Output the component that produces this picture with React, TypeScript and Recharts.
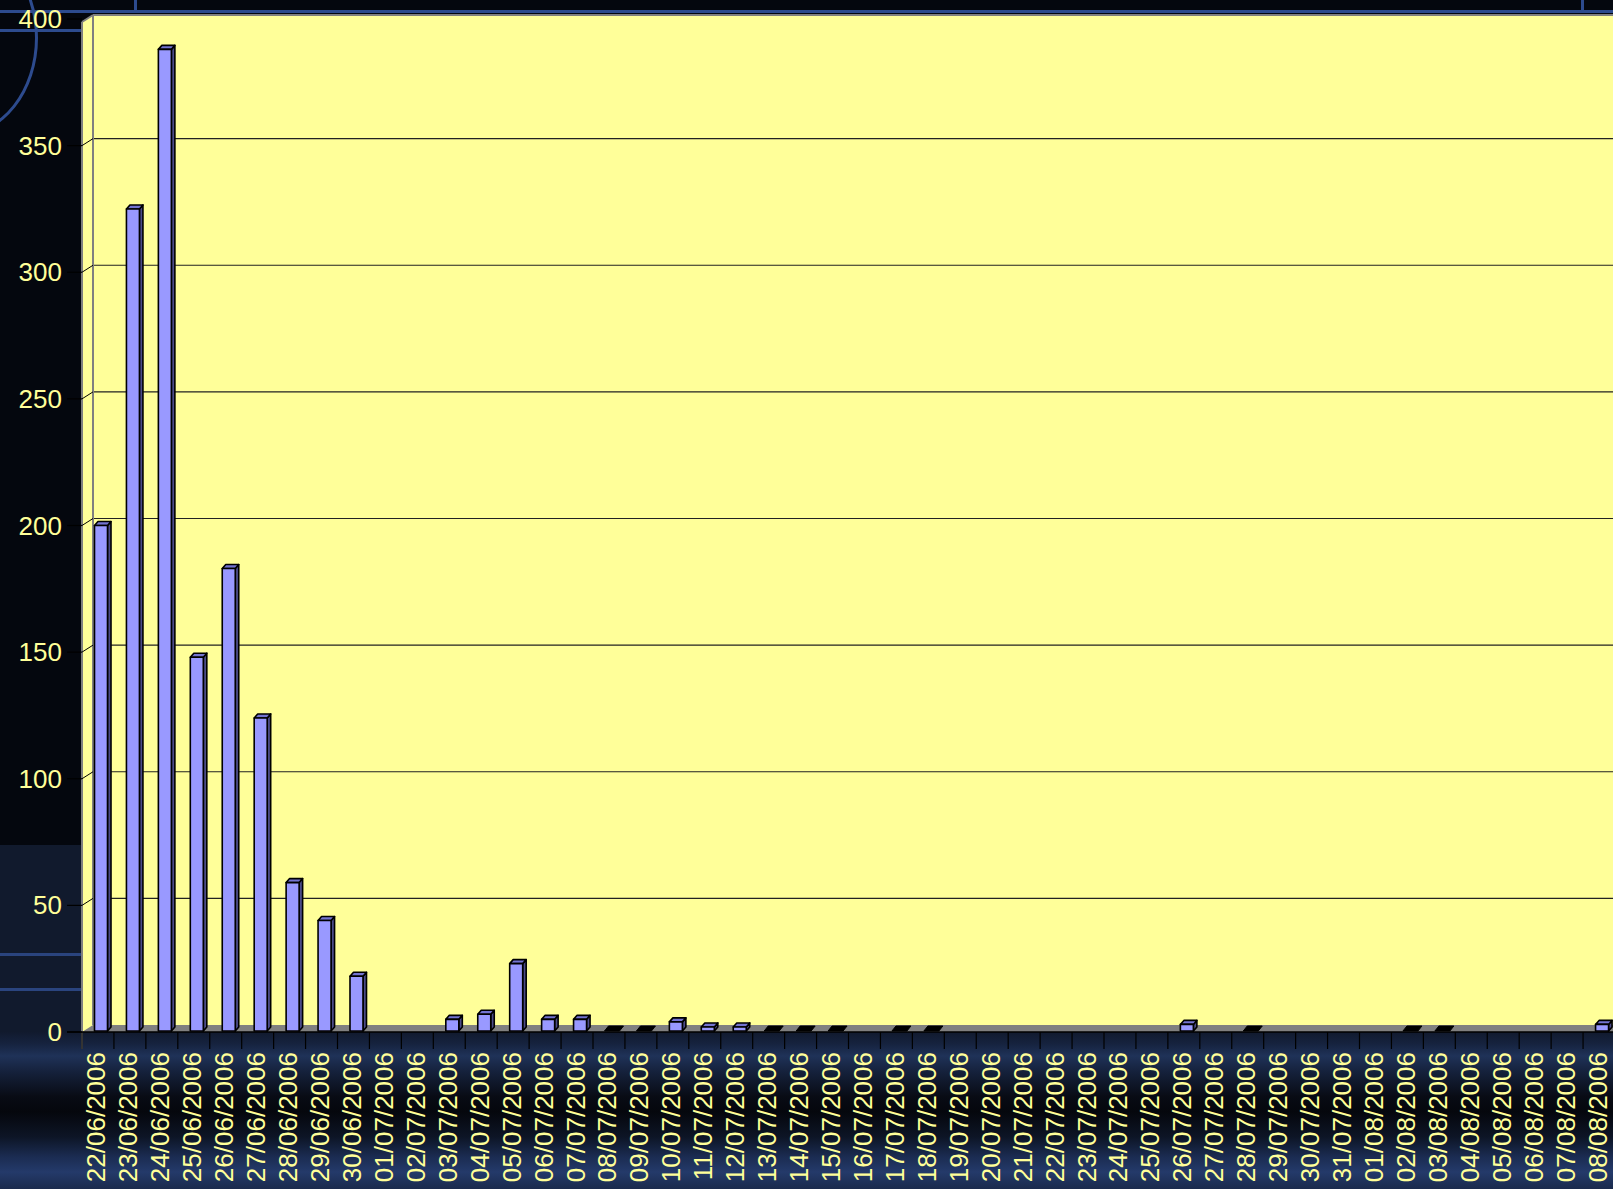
import React from "react";
import { BarChart, Bar, XAxis, YAxis, CartesianGrid, Customized } from "recharts";

const dates = [
  "22/06/2006", "23/06/2006", "24/06/2006", "25/06/2006", "26/06/2006", "27/06/2006",
  "28/06/2006", "29/06/2006", "30/06/2006", "01/07/2006", "02/07/2006", "03/07/2006",
  "04/07/2006", "05/07/2006", "06/07/2006", "07/07/2006", "08/07/2006", "09/07/2006",
  "10/07/2006", "11/07/2006", "12/07/2006", "13/07/2006", "14/07/2006", "15/07/2006",
  "16/07/2006", "17/07/2006", "18/07/2006", "19/07/2006", "20/07/2006", "21/07/2006",
  "22/07/2006", "23/07/2006", "24/07/2006", "25/07/2006", "26/07/2006", "27/07/2006",
  "28/07/2006", "29/07/2006", "30/07/2006", "31/07/2006", "01/08/2006", "02/08/2006",
  "03/08/2006", "04/08/2006", "05/08/2006", "06/08/2006", "07/08/2006", "08/08/2006",
];

// null = no bar drawn, 0 = flat bar on the floor
const counts: (number | null)[] = [
  200, 325, 388, 148, 183, 124, 59, 44, 22, null, null, 5,
  7, 27, 5, 5, 0, 0, 4, 2, 2, 0, 0, 0,
  null, 0, 0, null, null, null, null, null, null, null, 3, null,
  0, null, null, null, null, 0, 0, null, null, null, null, 3,
];

const yTicks = [0, 50, 100, 150, 200, 250, 300, 350, 400];

const data = dates.map((date, i) => ({ date, count: counts[i] }));

const W = 1625;
const H = 1189;
const AXIS_W = 82;
const X_AXIS_H = 157;
const RIGHT = 10;
const TOP = 19;
const BOTTOM = H - X_AXIS_H; // 1032
const BAND = (W - AXIS_W - RIGHT) / dates.length;
const DX = 11; // depth of the back wall
const DY = 7;
const LABEL = "#ffff99";
const FONT = "'Liberation Sans', Arial, sans-serif";

const YTick = (props: any) => {
  const { y, payload } = props;
  const v = payload.value;
  return (
    <g>
      <line x1={67} x2={AXIS_W} y1={y} y2={y} stroke="#000" strokeWidth={1.2} />
      {v > 0 && v < 400 && (
        <line x1={AXIS_W} y1={y} x2={AXIS_W + DX} y2={y - DY} stroke="#000" strokeWidth={1} />
      )}
      <text x={62} y={y + 9} textAnchor="end" fill={LABEL} fontSize={26} fontFamily={FONT}>
        {v}
      </text>
    </g>
  );
};

const XTick = (props: any) => {
  const { x, payload, index } = props;
  const left = x - BAND / 2;
  return (
    <g>
      <line x1={left} x2={left} y1={BOTTOM} y2={BOTTOM + 17} stroke="#000" strokeWidth={1.2} />
      {index === dates.length - 1 && (
        <line x1={left + BAND} x2={left + BAND} y1={BOTTOM} y2={BOTTOM + 17} stroke="#000" strokeWidth={1.2} />
      )}
      <text
        transform={`translate(${x + 7.5},${BOTTOM + 20}) rotate(-90)`}
        textAnchor="end"
        fill={LABEL}
        fontSize={26}
        fontFamily={FONT}
      >
        {payload.value}
      </text>
    </g>
  );
};

const GridLine = (props: any) => {
  const { y1, x2 } = props;
  if (y1 <= TOP + 1 || y1 >= BOTTOM - 1) return <g />;
  return (
    <line x1={AXIS_W + DX} x2={x2} y1={y1 - DY} y2={y1 - DY} stroke="#222" strokeWidth={1.2} />
  );
};

const Bar3D = (props: any) => {
  const { x, y, width, height, payload } = props;
  if (payload.count === null || payload.count === undefined) return <g />;
  const fx = x + 3.5;
  const d = 4;
  const s = 3.5;
  const base = y + height - 1;
  if (payload.count === 0) {
    return (
      <polygon
        points={`${fx - 1},${base} ${fx + width + 1},${base} ${fx + width + 5},${base - 5} ${fx + 3},${base - 5}`}
        fill="#000"
        stroke="#000"
        strokeLinejoin="round"
      />
    );
  }
  const top = y;
  return (
    <g stroke="#000" strokeWidth={1.6} strokeLinejoin="round">
      <polygon
        points={`${fx + width},${top} ${fx + width + s},${top - d} ${fx + width + s},${base - d} ${fx + width},${base}`}
        fill="#4b4b88"
      />
      <polygon
        points={`${fx},${top} ${fx + s},${top - d} ${fx + width + s},${top - d} ${fx + width},${top}`}
        fill="#7373d0"
      />
      <rect x={fx} y={top} width={width} height={base - top} fill="#9999ff" />
    </g>
  );
};

const Walls = () => (
  <g>
    {/* floor */}
    <polygon
      points={`${AXIS_W},${BOTTOM} ${AXIS_W + DX},${BOTTOM - DY} ${W},${BOTTOM - DY} ${W},${BOTTOM}`}
      fill="#808080"
    />
    {/* back wall edges */}
    <line x1={AXIS_W + DX} x2={AXIS_W + DX} y1={15} y2={BOTTOM - DY} stroke="#808080" strokeWidth={2} />
    <line x1={AXIS_W + DX} x2={W} y1={15} y2={15} stroke="#808080" strokeWidth={2} />
    <line x1={AXIS_W} y1={22} x2={AXIS_W + DX} y2={15} stroke="#808080" strokeWidth={2} />
    {/* front axis lines */}
    <line x1={AXIS_W} x2={AXIS_W} y1={22} y2={BOTTOM + 17} stroke="#808080" strokeWidth={2} />
    <line x1={67} x2={W} y1={BOTTOM} y2={BOTTOM} stroke="#000" strokeWidth={1.5} />
  </g>
);

const line = (s: React.CSSProperties): React.CSSProperties => ({
  position: "absolute",
  background: "#2d4b8e",
  ...s,
});

export default function App() {
  return (
    <div
      style={{
        position: "absolute",
        left: 0,
        top: 0,
        width: 1613,
        height: H,
        overflow: "hidden",
        background: "#04070e",
      }}
    >
      {/* backdrop decoration */}
      <div style={{ position: "absolute", left: 0, top: 845, width: AXIS_W, height: 190, background: "#111a2d" }} />
      <div
        style={{
          position: "absolute",
          left: 0,
          top: BOTTOM,
          width: 1613,
          height: H - BOTTOM,
          background:
            "linear-gradient(180deg, #111a2e 0px, #16233f 12px, #1f3258 24px, #15213b 40px, #080b14 65px, #05070d 80px, #0d1526 105px, #1b2c52 125px, #243a6a 140px, #1a2a4c 157px)",
        }}
      />
      <div style={line({ left: 0, top: 10, width: 1613, height: 3 })} />
      <div style={line({ left: 134, top: 0, width: 3, height: 11 })} />
      <div style={line({ left: 1581, top: 0, width: 3, height: 11 })} />
      <div style={line({ left: 0, top: 29, width: AXIS_W, height: 3 })} />
      <div style={line({ left: 0, top: 953, width: AXIS_W, height: 3, background: "#2a447e" })} />
      <div style={line({ left: 0, top: 988, width: AXIS_W, height: 3, background: "#2a447e" })} />
      <div
        style={{
          position: "absolute",
          left: -118,
          top: -60,
          width: 150,
          height: 190,
          borderRadius: "50%",
          border: "3px solid #2d4b8e",
        }}
      />
      {/* plot background */}
      <div
        style={{
          position: "absolute",
          left: AXIS_W,
          top: 15,
          width: 1613 - AXIS_W,
          height: BOTTOM - 15,
          background: "#ffff99",
          clipPath: `polygon(0 ${22 - 15}px, ${DX}px 0, 100% 0, 100% 100%, 0 100%)`,
        }}
      />
      <div style={{ position: "absolute", left: 0, top: 0 }}>
        <BarChart width={W} height={H} data={data} margin={{ top: TOP, right: RIGHT, left: 0, bottom: 0 }} barSize={13}>
          <CartesianGrid vertical={false} horizontal={(p: any) => <GridLine key={p.key ?? p.index} {...p} />} />
          <Customized component={Walls} />
          <XAxis
            dataKey="date"
            interval={0}
            height={X_AXIS_H}
            tick={<XTick />}
            tickLine={false}
            axisLine={false}
          />
          <YAxis
            width={AXIS_W}
            domain={[0, 400]}
            ticks={yTicks}
            tick={<YTick />}
            tickLine={false}
            axisLine={false}
            interval={0}
          />
          <Bar dataKey="count" shape={Bar3D} isAnimationActive={false} />
        </BarChart>
      </div>
    </div>
  );
}
